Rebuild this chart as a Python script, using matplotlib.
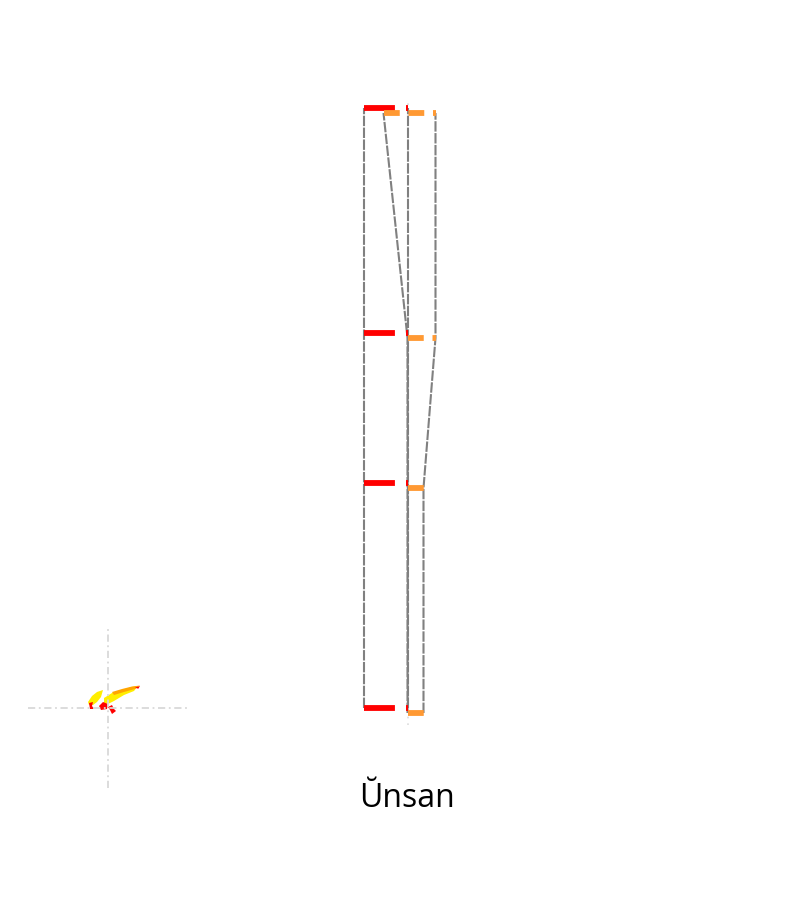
import numpy as np
import matplotlib.pyplot as plt

# category and levels (bottom to top)
categories = ['Ŭnsan']
levels = [0, 3, 5, 8]

# red series: range at each level
red_low = [-11, -11, -11, -11]
red_high = [0, 0, 0, 0]

# orange series
orange_low = [0, 0, 0, -6]
orange_high = [4, 4, 7, 7]

# little emblem next to the crosshair (inset units)
blob_yellow_a = [(-0.25, 0.075), (-0.2, 0.15), (-0.1375, 0.2), (-0.0625, 0.225),
                 (-0.0875, 0.1375), (-0.1375, 0.075), (-0.1875, 0.0375), (-0.2375, 0.0375)]
blob_yellow_b = [(-0.05, 0.125), (0.05, 0.1875), (0.175, 0.225), (0.3, 0.2625), (0.375, 0.275),
                 (0.325, 0.2125), (0.2, 0.1625), (0.075, 0.0875), (0.0, 0.05), (-0.05, 0.0625)]
blob_orange = [(0.05, 0.2), (0.175, 0.2375), (0.3, 0.269), (0.4, 0.281),
               (0.3375, 0.2375), (0.2, 0.2), (0.075, 0.1625)]
blob_red = [
    [(-0.2375, 0.0625), (-0.1875, 0.075), (-0.2, 0.025), (-0.175, -0.0125), (-0.225, -0.0125)],
    [(-0.1125, 0.025), (-0.0625, 0.075), (0.0, 0.05), (-0.0125, -0.0125), (-0.0875, -0.025)],
    [(0.0, 0.0125), (0.05, 0.0375), (0.075, -0.0125), (0.1, -0.0375), (0.05, -0.075), (0.025, -0.025)],
    [(0.3375, 0.254), (0.4, 0.275), (0.379, 0.241)],
]

plt.rcParams['font.family'] = ['Open Sans', 'DejaVu Sans']

red = '#ff0000'
orange = '#ff9933'
gray = '#808080'

fig = plt.figure(figsize=(8, 9), dpi=100)
ax = fig.add_axes([0, 0, 1, 1])
ax.set_xlim(-101.875, 98.125)
ax.set_ylim(-2.56, 9.44)
ax.axis('off')

lv = np.array(levels, dtype=float)
orange_y = lv - 5 / 75  # orange sits a few px lower than red

# faint category guide
ax.plot([0, 0], [-0.23, 8.12], color='#dddddd', lw=1.2, ls=(0, (1, 3)), zorder=1)

# connecting dashed edges
dash = (0, (5, 0.7))
for xs, ys in [(red_low, lv), (red_high, lv), (orange_low, orange_y), (orange_high, orange_y)]:
    ax.plot(xs, ys, color=gray, lw=1.5, ls=dash, zorder=2)

# range lines at each level
ax.hlines(lv, red_low, red_high, colors=red, lw=4.2, linestyles=[(0, (5.3, 1.9))], zorder=3)
ax.hlines(orange_y, orange_low, orange_high, colors=orange, lw=4.2,
          linestyles=[(0, (2.7, 1.5))], zorder=3)

# category label
ax.text(0, -1.32, categories[0], ha='center', va='baseline', fontsize=23, color='black')

# crosshair inset with the emblem
ins = fig.add_axes([28 / 800, 112 / 900, 160 / 800, 160 / 900])
ins.set_xlim(-1, 1)
ins.set_ylim(-1, 1)
ins.axis('off')
ins.axhline(0, color='#d9d9d9', lw=1.3, ls=(0, (4, 2, 1, 2)))
ins.axvline(0, color='#d9d9d9', lw=1.3, ls=(0, (4, 2, 1, 2)))
ins.add_patch(plt.Polygon(blob_yellow_a, color='#ffee00', lw=0))
ins.add_patch(plt.Polygon(blob_yellow_b, color='#ffee00', lw=0))
ins.add_patch(plt.Polygon(blob_orange, color='#ffa500', lw=0))
for pts in blob_red:
    ins.add_patch(plt.Polygon(pts, color=red, lw=0))

fig.savefig('out.png', dpi=100)
